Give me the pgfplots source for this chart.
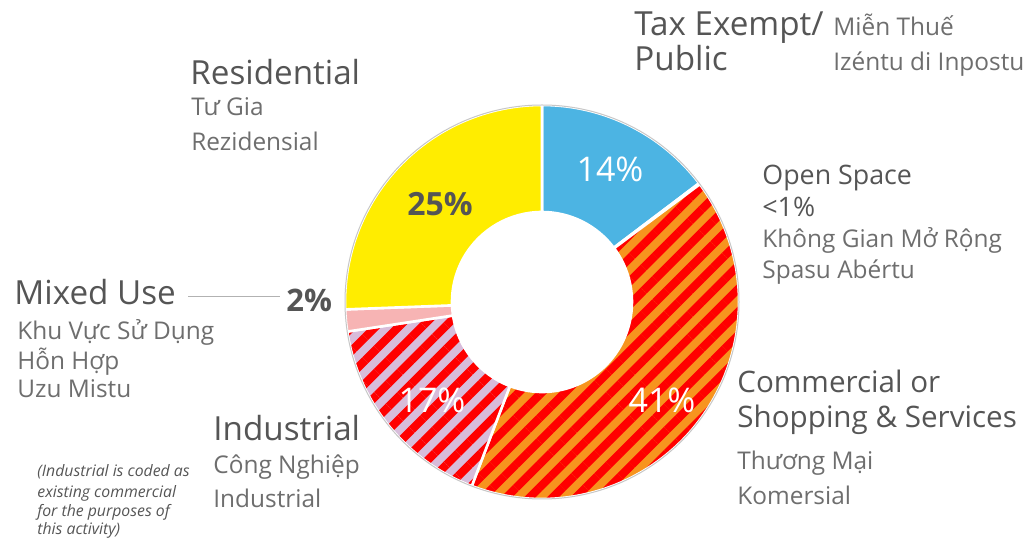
\documentclass[border=0pt]{standalone}
\usepackage{pgfplots}
\pgfplotsset{compat=1.18}
\usepackage{pgfplotstable}
\usetikzlibrary{patterns.meta}
\usepackage{fontspec}
\setmainfont{Open Sans}

\definecolor{taxblue}{RGB}{76,180,227}
\definecolor{resyellow}{RGB}{255,237,0}
\definecolor{comorange}{RGB}{247,148,30}
\definecolor{stripered}{RGB}{255,0,0}
\definecolor{indlilac}{RGB}{216,188,218}
\definecolor{mixpink}{RGB}{247,180,180}
\definecolor{headgray}{RGB}{85,85,85}
\definecolor{subgray}{RGB}{110,110,110}

\tikzset{
  head/.style={anchor=base west, inner sep=0pt, text=headgray, font=\fontsize{16.6}{19}\selectfont},
  sub/.style={anchor=base west, inner sep=0pt, text=subgray, font=\fontsize{12.2}{14}\selectfont},
  pct/.style={anchor=base, inner sep=0pt, font=\fontsize{17}{20}\selectfont},
}

% share of land use, clockwise from the top
\pgfplotstableread{
name        value base      stripe
Tax         14.7  taxblue   none
Open        0.1   white     none
Commercial  41.0  comorange stripered
Industrial  16.8  indlilac  stripered
Mixed       1.8   mixpink   none
Residential 25.6  resyellow none
}\landuse

\def\rout{98.5pt}
\def\rin{45pt}
\def\nonestr{none}
\newcommand\ringpath[2]{([shift={(#1:\rout)}]c) arc[start angle=#1, end angle=#2, radius=\rout]
  -- ([shift={(#2:\rin)}]c) arc[start angle=#2, end angle=#1, radius=\rin] -- cycle}

\begin{document}
\begin{tikzpicture}
\begin{axis}[
    width=514pt, height=270pt, scale only axis,
    xmin=0, xmax=1028, ymin=0, ymax=540,
    hide axis, clip=false,
]
\coordinate (ll) at (axis cs:0,0);
\coordinate (ur) at (axis cs:1028,540);

\pgfplotsextra{
  \coordinate (c) at (axis cs:542,238);
  \pgfplotstablegetrowsof{\landuse}
  \pgfmathtruncatemacro\lastrow{\pgfplotsretval-1}
  \xdef\cum{90}
  \foreach \i in {0,...,\lastrow}{
    \pgfplotstablegetelem{\i}{value}\of\landuse
    \pgfmathsetmacro\endA{\cum-\pgfplotsretval*3.6}
    \pgfplotstablegetelem{\i}{base}\of\landuse
    \edef\base{\pgfplotsretval}
    \pgfplotstablegetelem{\i}{stripe}\of\landuse
    \edef\stripe{\pgfplotsretval}
    \fill[fill=\base] \ringpath{\cum}{\endA};
    \ifx\stripe\nonestr\else
      \fill[pattern={Lines[angle=45, distance=8.2pt, line width=4.1pt]}, pattern color=\stripe] \ringpath{\cum}{\endA};
    \fi
    \draw[white, line width=1.3pt] \ringpath{\cum}{\endA};
    \xdef\cum{\endA}
  }
  \draw[black!22, line width=0.5pt] (c) circle[radius=\rout];
}

% percentages
\node[pct, text=white] at (axis cs:610,358) {14\%};
\node[pct, text=headgray, font=\fontsize{16}{19}\selectfont\bfseries] at (axis cs:440,324) {25\%};
\node[pct, text=white] at (axis cs:662,127) {41\%};
\node[pct, text=white] at (axis cs:432,127) {17\%};
\node[anchor=base west, inner sep=0pt, text=headgray, font=\fontsize{15.5}{18}\selectfont\bfseries] at (axis cs:286,228) {2\%};
\draw[black!30, line width=0.5pt] (axis cs:188,243) -- (axis cs:280,243);

% labels
\node[head] at (axis cs:634,504) {Tax Exempt/};
\node[head] at (axis cs:634,469) {Public};
\node[sub] at (axis cs:833,504) {Miễn Thuế};
\node[sub] at (axis cs:833,469) {Izéntu di Inpostu};

\node[head] at (axis cs:190,455) {Residential};
\node[sub] at (axis cs:191,424) {Tư Gia};
\node[sub] at (axis cs:191,389) {Rezidensial};

\node[head, font=\fontsize{13.4}{16}\selectfont] at (axis cs:762,355) {Open Space};
\node[head, font=\fontsize{13.4}{16}\selectfont] at (axis cs:762,323) {<1\%};
\node[sub] at (axis cs:762,292) {Không Gian Mở Rộng};
\node[sub] at (axis cs:762,261) {Spasu Abértu};

\node[head] at (axis cs:14,235) {Mixed Use};
\node[sub] at (axis cs:17,200) {Khu Vực Sử Dụng};
\node[sub] at (axis cs:17,170) {Hỗn Hợp};
\node[sub] at (axis cs:17,142) {Uzu Mistu};

\node[head] at (axis cs:213,99) {Industrial};
\node[sub] at (axis cs:213,66) {Công Nghiệp};
\node[sub] at (axis cs:213,32) {Industrial};

\node[head, font=\fontsize{14.8}{17}\selectfont] at (axis cs:737,147) {Commercial or};
\node[head, font=\fontsize{14.8}{17}\selectfont] at (axis cs:737,112) {Shopping \& Services};
\node[sub] at (axis cs:737,70) {Thương Mại};
\node[sub] at (axis cs:737,35) {Komersial};

\begin{scope}[every node/.style={anchor=base west, inner sep=0pt, text=headgray, font=\fontsize{7.9}{9}\selectfont\itshape}]
\node at (axis cs:37,63) {(Industrial is coded as};
\node at (axis cs:37,42) {existing commercial};
\node at (axis cs:37,23) {for the purposes of};
\node at (axis cs:37,5) {this activity)};
\end{scope}
\end{axis}
\pgfresetboundingbox
\useasboundingbox (ll) rectangle (ur);
\end{tikzpicture}
\end{document}
